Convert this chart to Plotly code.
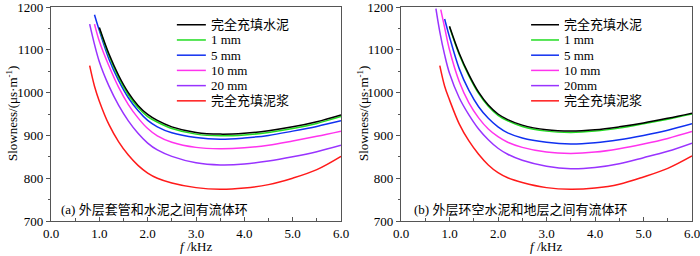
import plotly.graph_objects as go

# ---------------- data ----------------
names_a = ["完全充填水泥", "1 mm", "5 mm", "10 mm", "20 mm", "完全充填泥浆"]
names_b = ["完全充填水泥", "1 mm", "5 mm", "10 mm", "20mm", "完全充填泥浆"]
colors = ["#000000", "#22dd22", "#1030f0", "#ff33ee", "#9933ff", "#ff1a1a"]

# panel (a)
fa_black = [1.0, 1.2, 1.4, 1.6, 1.8, 2.0, 2.2, 2.5, 3.0, 3.5, 4.0, 4.5, 5.0, 5.5, 6.0]
sa_black = [1152, 1090, 1040, 1000, 970, 949, 935, 920, 907, 903, 905, 911, 920, 932, 948]
fa_green = [1.0, 1.2, 1.4, 1.6, 1.8, 2.0, 2.2, 2.5, 3.0, 3.5, 4.0, 4.5, 5.0, 5.5, 6.0]
sa_green = [1150, 1086, 1035, 995, 965, 944, 931, 916, 903, 899, 901, 907, 916, 928, 944]
fa_blue = [0.9, 1.0, 1.2, 1.4, 1.6, 1.8, 2.0, 2.2, 2.5, 3.0, 3.5, 4.0, 4.5, 5.0, 5.5, 6.0]
sa_blue = [1182, 1145, 1078, 1028, 988, 958, 935, 920, 906, 895, 891, 894, 900, 910, 921, 934]
fa_mag = [0.9, 1.0, 1.2, 1.4, 1.6, 1.8, 2.0, 2.2, 2.5, 3.0, 3.5, 4.0, 4.5, 5.0, 5.5, 6.0]
sa_mag = [1160, 1120, 1062, 1012, 972, 941, 916, 899, 884, 872, 869, 871, 877, 887, 898, 910]
fa_pur = [0.8, 1.0, 1.2, 1.4, 1.6, 1.8, 2.0, 2.2, 2.5, 3.0, 3.5, 4.0, 4.5, 5.0, 5.5, 6.0]
sa_pur = [1160, 1072, 1015, 970, 934, 905, 882, 866, 851, 836, 831, 833, 840, 850, 862, 877]
fa_red = [0.8, 0.9, 1.0, 1.2, 1.4, 1.6, 1.8, 2.0, 2.2, 2.5, 3.0, 3.5, 4.0, 4.5, 5.0, 5.5, 6.0]
sa_red = [1063, 1015, 980, 925, 885, 854, 830, 812, 800, 789, 778, 774, 777, 785, 800, 820, 851]

# panel (b)
fb_black = [1.0, 1.2, 1.4, 1.6, 1.8, 2.0, 2.2, 2.5, 3.0, 3.5, 4.0, 4.5, 5.0, 5.5, 6.0]
sb_black = [1155, 1092, 1042, 1001, 971, 950, 937, 924, 913, 910, 913, 920, 929, 940, 952]
fb_green = [1.0, 1.2, 1.4, 1.6, 1.8, 2.0, 2.2, 2.5, 3.0, 3.5, 4.0, 4.5, 5.0, 5.5, 6.0]
sb_green = [1153, 1089, 1039, 998, 968, 947, 934, 921, 910, 907, 910, 917, 927, 938, 950]
fb_blue = [0.9, 1.0, 1.2, 1.4, 1.6, 1.8, 2.0, 2.2, 2.5, 3.0, 3.5, 4.0, 4.5, 5.0, 5.5, 6.0]
sb_blue = [1172, 1130, 1056, 1005, 967, 940, 920, 906, 894, 884, 880, 883, 890, 900, 912, 927]
fb_mag = [0.82, 0.9, 1.0, 1.2, 1.4, 1.6, 1.8, 2.0, 2.2, 2.5, 3.0, 3.5, 4.0, 4.5, 5.0, 5.5, 6.0]
sb_mag = [1194, 1152, 1100, 1026, 976, 941, 915, 897, 884, 872, 861, 858, 861, 869, 880, 893, 909]
fb_pur = [0.72, 0.8, 0.9, 1.0, 1.2, 1.4, 1.6, 1.8, 2.0, 2.2, 2.5, 3.0, 3.5, 4.0, 4.5, 5.0, 5.5, 6.0]
sb_pur = [1196, 1142, 1088, 1045, 988, 948, 915, 890, 870, 856, 842, 828, 822, 825, 834, 848, 863, 882]
fb_red = [0.8, 0.9, 1.0, 1.2, 1.4, 1.6, 1.8, 2.0, 2.2, 2.5, 3.0, 3.5, 4.0, 4.5, 5.0, 5.5, 6.0]
sb_red = [1063, 1015, 983, 927, 887, 856, 831, 813, 801, 790, 778, 774, 777, 786, 803, 823, 852]

panel_a_label = "(a) 外层套管和水泥之间有流体环"
panel_b_label = "(b) 外层环空水泥和地层之间有流体环"
x_title = "<i>f</i> /kHz"
y_title = "Slowness/(μs·m<sup>-1</sup>)"
x_ticks = [0, 1, 2, 3, 4, 5, 6]
y_ticks = [700, 800, 900, 1000, 1100, 1200]

series_a = [(fa_black, sa_black), (fa_green, sa_green), (fa_blue, sa_blue),
            (fa_mag, sa_mag), (fa_pur, sa_pur), (fa_red, sa_red)]
series_b = [(fb_black, sb_black), (fb_green, sb_green), (fb_blue, sb_blue),
            (fb_mag, sb_mag), (fb_pur, sb_pur), (fb_red, sb_red)]

FONT = "Liberation Serif, Noto Sans CJK SC"
TXT = dict(family=FONT, size=13, color="#000")

fig = go.Figure()

for axis_i, series, names in [(1, series_a, names_a), (2, series_b, names_b)]:
    xa = "x" if axis_i == 1 else "x2"
    ya = "y" if axis_i == 1 else "y2"
    for k in reversed(range(len(series))):
        fx, sy = series[k]
        fig.add_trace(go.Scatter(
            x=fx, y=sy, mode="lines", name=names[k],
            line=dict(color=colors[k], width=1.5, shape="spline", smoothing=1.0),
            xaxis=xa, yaxis=ya, showlegend=False, hoverinfo="skip"))

axis_common = dict(showgrid=False, zeroline=False, showline=True, mirror=True,
                   linecolor="#555555", linewidth=1.2, automargin=False,
                   ticklabeloverflow="allow",
                   tickfont=TXT, ticklen=4, tickwidth=1, tickcolor="#555555")

xcfg = dict(axis_common, range=[0, 6], tickvals=x_ticks, tickformat=".1f",
            ticks="inside", ticklen=4,
            minor=dict(dtick=0.5, ticks="inside", ticklen=3, tickcolor="#555555"))
ycfg = dict(axis_common, range=[700, 1200], tickvals=y_ticks, ticks="outside",
            minor=dict(dtick=50, ticks="outside", ticklen=2, tickcolor="#555555"))

W = 700 - 51 - 8
H = 256 - 7 - 35
fig.update_layout(
    width=700, height=256,
    margin=dict(l=51, r=8, t=7, b=35, autoexpand=False),
    paper_bgcolor="white", plot_bgcolor="white",
    showlegend=False,
    xaxis=dict(xcfg, domain=[0, 290 / W], anchor="y"),
    yaxis=dict(ycfg, domain=[0, 1], anchor="x"),
    xaxis2=dict(xcfg, domain=[350 / W, 1.0], anchor="y2"),
    yaxis2=dict(ycfg, domain=[0, 1], anchor="x2"),
)

# axis titles as annotations
for cx, ty in [((196 - 51) / W, (12 - 51) / W), ((546 - 51) / W, (363 - 51) / W)]:
    fig.add_annotation(xref="paper", yref="paper", x=cx, y=-(246 - 221) / H,
                       text=x_title, showarrow=False, xanchor="center", yanchor="middle",
                       font=TXT)
    fig.add_annotation(xref="paper", yref="paper", x=ty, y=0.5, textangle=-90,
                       text=y_title, showarrow=False, xanchor="center", yanchor="middle",
                       font=TXT)

# manual legends (compact row spacing)
row0 = 0.917
step = 0.0711
for axis_i, names, lx0, lx1, tx in [(1, names_a, 0.434, 0.534, 0.545),
                                     (2, names_b, 0.447, 0.543, 0.553)]:
    xr = "x domain" if axis_i == 1 else "x2 domain"
    yr = "y domain" if axis_i == 1 else "y2 domain"
    for k, nm in enumerate(names):
        yy = row0 - k * step
        fig.add_shape(type="line", xref=xr, yref=yr, x0=lx0, x1=lx1, y0=yy, y1=yy,
                      line=dict(color=colors[k], width=1.5))
        fig.add_annotation(xref=xr, yref=yr, x=tx, y=yy, text=nm, showarrow=False,
                           xanchor="left", yanchor="middle", font=TXT)

fig.add_annotation(xref="x domain", yref="y domain", x=0.028, y=0.052,
                   text=panel_a_label, showarrow=False, xanchor="left", yanchor="middle",
                   font=TXT)
fig.add_annotation(xref="x2 domain", yref="y2 domain", x=0.038, y=0.052,
                   text=panel_b_label, showarrow=False, xanchor="left", yanchor="middle",
                   font=TXT)

fig.write_html("out.html", config={"displayModeBar": False},
               post_script="document.body.style.margin='0';document.body.style.padding='0';")
